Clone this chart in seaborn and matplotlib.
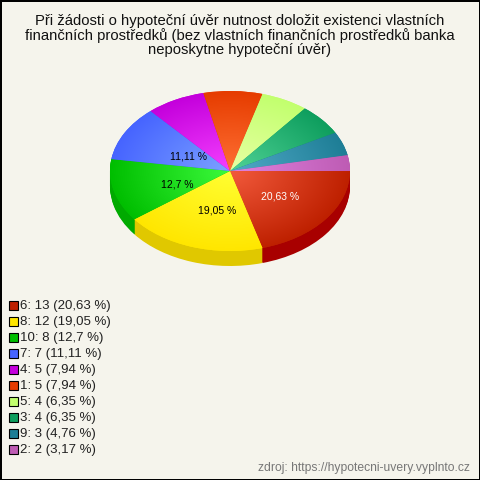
import numpy as np
import matplotlib
matplotlib.use("Agg")
import matplotlib.pyplot as plt
import seaborn as sns
from matplotlib.colors import LinearSegmentedColormap
from matplotlib.patches import Rectangle

#Data

title = ("Při žádosti o hypoteční úvěr nutnost doložit existenci vlastních\n"
         "finančních prostředků (bez vlastních finančních prostředků banka\n"
         "neposkytne hypoteční úvěr)")
categories = ["6", "8", "10", "7", "4", "1", "5", "3", "9", "2"]
counts = [13, 12, 8, 7, 5, 5, 4, 4, 3, 2]
shares = ["20,63", "19,05", "12,7", "11,11", "7,94", "7,94", "6,35", "6,35", "4,76", "3,17"]
source = "zdroj: https://hypotecni-uvery.vyplnto.cz"

edge_colors = ["#BE2000", "#FFE600", "#00BE00", "#4664FF", "#C400DC",
               "#E63C00", "#C2FF6E", "#0E9E5E", "#1E7E96", "#BE5CB4"]
center_colors = ["#F25A3C", "#FFFF32", "#3CFA3C", "#7CA2FF", "#F440FF",
                 "#FF7034", "#E8FFA4", "#50D296", "#52AAC8", "#E082E0"]
side_colors = ["#A80000", "#E0C800", "#00AA00", "#3048C0", "#9000A8",
               "#B02C00", "#90C050", "#0A7848", "#165E70", "#904488"]

bg = "#F5F4EC"
sns.set_theme(style="white", rc={"font.family": ["Liberation Sans", "DejaVu Sans"]})

fig = plt.figure(figsize=(4.8, 4.8), dpi=100, facecolor=bg, edgecolor="black", linewidth=2)
ax = fig.add_axes([0, 0, 1, 1])
ax.axis("off")


def pct_label(pct):
    if pct < 10:
        return ""
    return f"{pct:.2f}".rstrip("0").rstrip(".").replace(".", ",") + " %"


#Side of the pie: stacked copies going down
for d in np.arange(0.1875, 0, -0.0125):
    ax.pie(counts, colors=side_colors, startangle=0, counterclock=False,
           center=(0, -d), radius=1, wedgeprops={"linewidth": 0, "zorder": 1})

#Top of the pie
wedges, _, autotexts = ax.pie(counts, colors=edge_colors, startangle=0, counterclock=False,
                              radius=1, autopct=pct_label, pctdistance=0.5,
                              wedgeprops={"linewidth": 0, "zorder": 2},
                              textprops={"fontsize": 7.5, "color": "black", "zorder": 5})
autotexts[0].set_color("white")

#Nudge the labels, the original sets them a bit off the slice middle
nudges = [(2, -1), (6, -2), (5, -4), (11, -5)]
for t, (dx, dy) in zip(autotexts, nudges):
    x, y = t.get_position()
    t.set_position((x + dx / 120, y + dy / 80))

#Radial gradient on every slice
yy, xx = np.mgrid[-1:1:500j, -1:1:500j]
rr = np.clip(np.hypot(xx, yy), 0, 1)
for w, c1, c2 in zip(wedges, center_colors, edge_colors):
    cmap = LinearSegmentedColormap.from_list("g", [c1, c2])
    im = ax.imshow(rr, cmap=cmap, vmin=0, vmax=1, extent=[-1, 1, -1, 1],
                   origin="lower", aspect="auto", zorder=3)
    im.set_clip_path(w)

ax.set_aspect("auto")
ax.set_xlim(-230 / 120, 250 / 120)
ax.set_ylim(-309 / 80, 171 / 80)

fig.text(0.5, 1 - 35.5 / 480, title, ha="center", va="center", fontsize=10.7,
         color="#111111", linespacing=1.04)

#Legend
for i, (cat, n, share) in enumerate(zip(categories, counts, shares)):
    y = 305.5 + i * 16.05
    fig.add_artist(Rectangle((9 / 480, 1 - (y + 4.5) / 480), 9 / 480, 9 / 480,
                             transform=fig.transFigure, facecolor=edge_colors[i],
                             edgecolor="black", linewidth=0.8))
    fig.text(20.5 / 480, 1 - y / 480, f"{cat}: {n} ({share} %)", ha="left", va="center",
             fontsize=9.5, color="#222222")

fig.text(470 / 480, 1 - 468 / 480, source, ha="right", va="center", fontsize=8.75, color="#777777")

fig.savefig("out.png", dpi=100, facecolor=bg, edgecolor="black")
